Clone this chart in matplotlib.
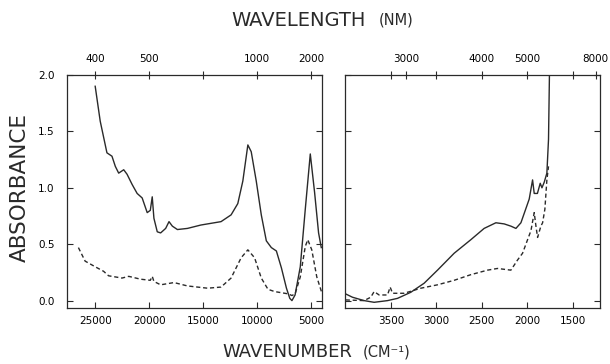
import matplotlib
matplotlib.use("Agg")
import matplotlib.pyplot as plt
from matplotlib import font_manager

# left panel (visible / near-IR), wavenumber in cm-1
vis_wn_solid = [25000, 24534, 23913, 23447, 23137, 22826, 22360, 22050, 21584, 21118,
                20652, 20186, 19900, 19720, 19565, 19255, 18944, 18478, 18168, 17857,
                17391, 16460, 15217, 13975, 13354, 12422, 11801, 11335, 10870, 10559,
                10093, 9627, 9161, 8696, 8230, 7764, 7298, 6988, 6790, 6500,
                6018, 5555, 5092, 4694, 4324, 4074]
vis_abs_solid = [1.90, 1.59, 1.31, 1.28, 1.19, 1.13, 1.16, 1.12, 1.03, 0.95,
                 0.91, 0.78, 0.80, 0.92, 0.73, 0.61, 0.60, 0.64, 0.70, 0.66,
                 0.63, 0.64, 0.67, 0.69, 0.70, 0.76, 0.86, 1.06, 1.38, 1.32,
                 1.06, 0.76, 0.53, 0.47, 0.44, 0.29, 0.11, 0.02, 0.00, 0.05,
                 0.30, 0.81, 1.30, 0.96, 0.60, 0.47]

vis_wn_dash = [26553, 25932, 25000, 24224, 23758, 22516, 21894, 20807, 19900, 19720,
               19565, 18944, 17702, 16460, 14596, 13354, 12422, 11491, 10870, 10248,
               9627, 9006, 8385, 7143, 6790, 6500, 6018, 5555, 5324, 4954,
               4490, 4027]
vis_abs_dash = [0.47, 0.35, 0.30, 0.26, 0.22, 0.20, 0.215, 0.19, 0.18, 0.215,
                0.17, 0.14, 0.16, 0.13, 0.11, 0.12, 0.20, 0.38, 0.45, 0.38,
                0.20, 0.10, 0.08, 0.06, 0.045, 0.06, 0.21, 0.48, 0.54, 0.45,
                0.21, 0.07]

# right panel (mid-IR)
ir_wn_solid = [3995, 3921, 3793, 3683, 3536, 3426, 3280, 3134, 2987, 2804,
               2621, 2475, 2346, 2255, 2181, 2126, 2071, 1980, 1943, 1925,
               1890, 1859, 1840, 1815, 1786, 1768, 1757]
ir_abs_solid = [0.059, 0.03, 0.0, -0.015, 0.0, 0.02, 0.074, 0.154, 0.27, 0.42,
                0.54, 0.64, 0.69, 0.68, 0.66, 0.64, 0.69, 0.90, 1.07, 0.95,
                0.95, 1.04, 1.00, 1.05, 1.13, 1.43, 2.05]

ir_wn_dash = [3995, 3793, 3720, 3683, 3628, 3536, 3507, 3481, 3353, 3170,
              2987, 2804, 2621, 2438, 2328, 2181, 2108, 2053, 1998, 1961,
              1925, 1906, 1888, 1852, 1833, 1808, 1786, 1768]
ir_abs_dash = [0.006, 0.0, 0.03, 0.08, 0.05, 0.05, 0.12, 0.065, 0.065, 0.11,
               0.14, 0.18, 0.23, 0.27, 0.285, 0.27, 0.36, 0.42, 0.54, 0.62,
               0.78, 0.66, 0.56, 0.66, 0.69, 0.81, 1.07, 1.19]

vis_ticks = [25000, 20000, 15000, 10000, 5000]
vis_top_ticks = [25000, 20000, 15000, 10000, 5000]
vis_top_labels = ["400", "500", "", "1000", "2000"]
ir_ticks = [3500, 3000, 2500, 2000, 1500]
ir_top_ticks = [3500, 3333.3, 3000, 2500, 2000, 1500, 1250]
ir_top_labels = ["", "3000", "", "4000", "5000", "", "8000"]
y_ticks = [0.0, 0.5, 1.0, 1.5, 2.0]

names = {f.name for f in font_manager.fontManager.ttflist}
main_font = "Liberation Sans Narrow" if "Liberation Sans Narrow" in names else "DejaVu Sans"
plt.rcParams["font.family"] = [main_font, "DejaVu Sans"]

ink = "#2a2a2a"
fig = plt.figure(figsize=(6.1, 3.64), dpi=100)
ax1 = fig.add_axes([0.110, 0.154, 0.418, 0.640])
ax2 = fig.add_axes([0.566, 0.154, 0.418, 0.640])

ax1.plot(vis_wn_solid, vis_abs_solid, color=ink, lw=1.0)
ax1.plot(vis_wn_dash, vis_abs_dash, color=ink, lw=1.0, linestyle=(0, (3, 2)))
ax2.plot(ir_wn_solid, ir_abs_solid, color=ink, lw=1.0)
ax2.plot(ir_wn_dash, ir_abs_dash, color=ink, lw=1.0, linestyle=(0, (3, 2)))

ax1.set_xlim(27600, 4000)
ax2.set_xlim(4000, 1200)

for ax, ticks, top_ticks, top_labels in [(ax1, vis_ticks, vis_top_ticks, vis_top_labels),
                                         (ax2, ir_ticks, ir_top_ticks, ir_top_labels)]:
    ax.set_ylim(-0.065, 2.0)
    ax.set_xticks(ticks)
    ax.set_xticklabels([str(t) for t in ticks])
    ax.set_yticks(y_ticks)
    ax.tick_params(axis="x", direction="in", length=4, labelsize=7.5, pad=6, color=ink)
    ax.tick_params(axis="y", direction="in", length=4, left=True, right=True,
                   labelsize=7.5, pad=9, color=ink)
    for s in ax.spines.values():
        s.set_color(ink)
        s.set_linewidth(0.9)
    top = ax.twiny()
    top.set_xlim(ax.get_xlim())
    top.set_xticks(top_ticks)
    top.set_xticklabels(top_labels)
    top.tick_params(axis="x", direction="inout", length=6, labelsize=7.5, pad=5, color=ink)
    for s in top.spines.values():
        s.set_visible(False)

ax1.set_yticklabels(["0.0", "0.5", "1.0", "1.5", "2.0"])
ax2.tick_params(axis="y", labelleft=False)

fig.text(0.600, 0.945, "WAVELENGTH", fontsize=14, ha="right", va="center", color=ink)
fig.text(0.621, 0.945, "(NM)", fontsize=10.5, ha="left", va="center", color=ink)
fig.text(0.577, 0.033, "WAVENUMBER", fontsize=13, ha="right", va="center", color=ink)
fig.text(0.595, 0.033, "(CM\u207b\u00b9)", fontsize=10.5, ha="left", va="center", color=ink)
fig.text(0.033, 0.486, "ABSORBANCE", fontsize=15.5, rotation=90, ha="center", va="center", color=ink)

fig.savefig("out.png", dpi=100)
